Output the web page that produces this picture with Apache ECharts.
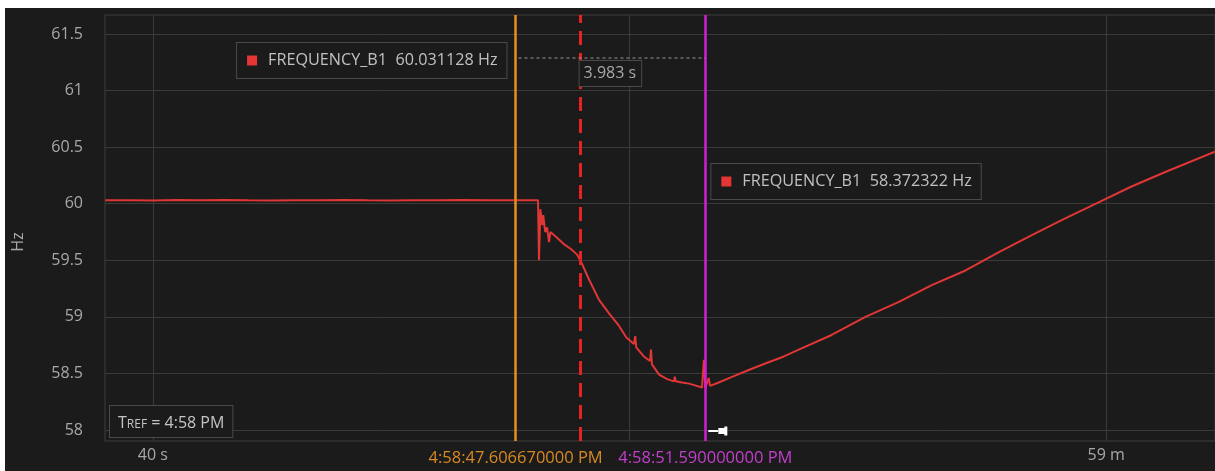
<!DOCTYPE html>
<html>
<head>
<meta charset="utf-8">
<script src="https://cdn.jsdelivr.net/npm/echarts@6/dist/echarts.min.js"></script>
<style>
  html, body { margin: 0; padding: 0; background: #ffffff; }
  #chart { position: absolute; left: 5px; top: 8px; width: 1210px; height: 463px; background: #1b1b1b; }
</style>
</head>
<body>
<div id="chart"></div>
<script>
// Signal and unit
const seriesName = 'FREQUENCY_B1';
const unitName = 'Hz';

// Sample times, seconds after 4:58:00 PM
const timeSec = [
  39.00, 39.50, 40.00, 40.50, 41.00, 41.50, 42.00, 42.50, 43.00, 43.50,
  44.00, 44.50, 45.00, 45.50, 46.00, 46.50, 47.00, 47.60667, 48.08, 48.10,
  48.13, 48.17, 48.19, 48.23, 48.27, 48.31, 48.34, 48.48, 48.63, 48.77,
  48.90, 48.98, 49.15, 49.36, 49.57, 49.78, 49.93, 50.09, 50.12, 50.14,
  50.30, 50.43, 50.45, 50.47, 50.62, 50.79, 50.93, 50.95, 50.97, 51.10,
  51.25, 51.41, 51.52, 51.56, 51.59, 51.66, 51.69, 51.87, 52.15, 52.50,
  52.86, 53.24, 53.55, 54.24, 54.95, 55.64, 56.34, 57.05, 57.74, 58.43,
  59.14, 59.83, 60.52, 61.24, 62.28
];
// Bus frequency, Hz
const freqHz = [
  60.030, 60.031, 60.029, 60.032, 60.030, 60.033, 60.030, 60.029, 60.031, 60.030,
  60.032, 60.030, 60.029, 60.031, 60.030, 60.032, 60.030, 60.031128, 60.030, 59.50,
  59.95, 59.81, 59.90, 59.75, 59.79, 59.66, 59.75, 59.70, 59.64, 59.60,
  59.55, 59.49, 59.33, 59.15, 59.03, 58.92, 58.82, 58.76, 58.83, 58.73,
  58.65, 58.61, 58.71, 58.58, 58.49, 58.45, 58.43, 58.47, 58.43, 58.42,
  58.41, 58.39, 58.375, 58.62, 58.372322, 58.46, 58.39, 58.42, 58.47, 58.53,
  58.59, 58.65, 58.71, 58.84, 59.00, 59.13, 59.28, 59.41, 59.57, 59.72,
  59.87, 60.01, 60.15, 60.28, 60.46
];

// Axis ticks
const yTicks = [58, 58.5, 59, 59.5, 60, 60.5, 61, 61.5];
const xTicks = [40, 50, 60];
const xTickLabels = ['40 s', '', '59 m'];

// Cursors and event marker (seconds after 4:58:00 PM)
const cursorA = 47.60667;
const cursorB = 51.59;
const cursorALabel = '4:58:47.606670000 PM';
const cursorBLabel = '4:58:51.590000000 PM';
const eventMark = 48.96;
const tRefText = '4:58 PM';

const FONT = '"Open Sans", "Noto Sans", sans-serif';
const ORANGE = '#e8901c';
const MAGENTA = '#d21fd6';
const RED = '#e03636';

const seriesData = timeSec.map((t, i) => [t, freqHz[i]]);
const valueAt = t => freqHz[timeSec.indexOf(t)];

const chart = echarts.init(document.getElementById('chart'), null, { renderer: 'canvas' });

chart.setOption({
  animation: false,
  backgroundColor: '#1b1b1b',
  grid: {
    left: 100, top: 7, right: -2, height: 426,
    show: true, borderColor: '#3e3e3e', borderWidth: 1, backgroundColor: 'transparent'
  },
  xAxis: {
    type: 'value',
    min: 38.995, max: 62.283,
    axisLine: { show: false },
    axisTick: { show: false, customValues: xTicks },
    splitLine: { show: true, lineStyle: { color: '#3a3a3a', width: 1 } },
    axisLabel: {
      customValues: xTicks,
      color: '#a8a8a8', fontSize: 16, fontFamily: FONT, margin: 6,
      formatter: v => xTickLabels[xTicks.indexOf(v)] || ''
    }
  },
  yAxis: {
    type: 'value',
    min: 57.9028, max: 61.668,
    axisLine: { show: false },
    axisTick: { show: false, customValues: yTicks },
    splitLine: { show: true, lineStyle: { color: '#3a3a3a', width: 1 } },
    axisLabel: {
      customValues: yTicks,
      color: '#a8a8a8', fontSize: 16, fontFamily: FONT, margin: 22,
      formatter: v => String(v)
    }
  },
  series: [{
    name: seriesName,
    type: 'line',
    data: seriesData,
    showSymbol: false,
    symbol: 'none',
    lineStyle: { color: RED, width: 2 },
    z: 3,
    markLine: {
      silent: true,
      symbol: ['none', 'none'],
      animation: false,
      data: [
        {
          xAxis: eventMark,
          lineStyle: { color: '#e42424', width: 3, type: [14, 8] },
          label: { show: false }
        },
        {
          xAxis: cursorA,
          lineStyle: { color: ORANGE, width: 2.5, type: 'solid' },
          label: {
            show: true, position: 'start', distance: 9, formatter: cursorALabel,
            color: '#d88a22', fontSize: 16.5, fontFamily: FONT
          }
        },
        {
          xAxis: cursorB,
          lineStyle: { color: MAGENTA, width: 2.5, type: 'solid' },
          label: {
            show: true, position: 'start', distance: 9, formatter: cursorBLabel,
            color: '#c43fcc', fontSize: 16.5, fontFamily: FONT
          }
        }
      ]
    }
  }]
});

// Cursor readouts, delta box, reference-time tag and axis title
const xA = chart.convertToPixel({ gridIndex: 0 }, [cursorA, 60])[0];
const xB = chart.convertToPixel({ gridIndex: 0 }, [cursorB, 60])[0];
const xMid = (xA + xB) / 2;
const valA = valueAt(cursorA);
const valB = valueAt(cursorB);
const deltaText = (cursorB - cursorA).toFixed(3) + ' s';

const readoutRich = {
  sq: { backgroundColor: '#e53535', width: 10, height: 10 },
  sp: { width: 11, height: 10 },
  t: { fill: '#c0c0c0', fontSize: 16.2, fontFamily: FONT, lineHeight: 17 }
};
const boxStyle = {
  backgroundColor: '#1b1b1b',
  borderColor: '#4a4a4a',
  borderWidth: 1,
  padding: [9, 9, 9, 10]
};

chart.setOption({
  graphic: [
    {
      type: 'line', z: 10, silent: true,
      shape: { x1: xA + 3, y1: 50, x2: xB, y2: 50 },
      style: { stroke: '#9a9a9a', lineWidth: 1, lineDash: [3, 3] }
    },
    {
      type: 'text', z: 11, silent: true,
      x: xA - 9, y: 35,
      style: Object.assign({
        text: '{sq|}{sp|}{t|' + seriesName + '  ' + valA.toFixed(6) + ' ' + unitName + '}',
        rich: readoutRich, align: 'right', verticalAlign: 'top'
      }, boxStyle)
    },
    {
      type: 'text', z: 11, silent: true,
      x: xB + 6, y: 156,
      style: Object.assign({
        text: '{sq|}{sp|}{t|' + seriesName + '  ' + valB.toFixed(6) + ' ' + unitName + '}',
        rich: readoutRich, align: 'left', verticalAlign: 'top'
      }, boxStyle)
    },
    {
      type: 'text', z: 11, silent: true,
      x: xMid, y: 53,
      style: {
        text: deltaText, fill: '#a8a8a8', fontSize: 16, fontFamily: FONT,
        align: 'center', verticalAlign: 'top', lineHeight: 17,
        backgroundColor: '#1b1b1b', borderColor: '#4a4a4a', borderWidth: 1,
        padding: [4, 5, 4, 4]
      }
    },
    {
      type: 'text', z: 11, silent: true,
      x: 105, y: 398,
      style: {
        text: '{a|T}{b|REF}{a| = ' + tRefText + '}',
        rich: {
          a: { fill: '#c4c4c4', fontSize: 16, fontFamily: FONT, lineHeight: 18, verticalAlign: 'bottom' },
          b: { fill: '#c4c4c4', fontSize: 12, fontFamily: FONT, lineHeight: 14, verticalAlign: 'bottom' }
        },
        verticalAlign: 'top',
        backgroundColor: '#1b1b1b', borderColor: '#4a4a4a', borderWidth: 1,
        padding: [7, 8, 6, 8]
      }
    },
    {
      type: 'text', z: 11, silent: true,
      x: 13, y: 234, rotation: Math.PI / 2,
      style: {
        text: unitName, fill: '#a8a8a8', fontSize: 16, fontFamily: FONT,
        align: 'center', verticalAlign: 'middle'
      }
    },
    {
      // cursor pin handle
      type: 'group', z: 12, silent: true,
      x: xB + 3, y: 423,
      children: [
        { type: 'rect', shape: { x: 0, y: -1, width: 10, height: 2 }, style: { fill: '#ffffff' } },
        { type: 'rect', shape: { x: 10, y: -3, width: 7, height: 6 }, style: { fill: '#ffffff' } },
        { type: 'rect', shape: { x: 16, y: -4.5, width: 3, height: 9 }, style: { fill: '#ffffff' } }
      ]
    }
  ]
});
</script>
</body>
</html>
